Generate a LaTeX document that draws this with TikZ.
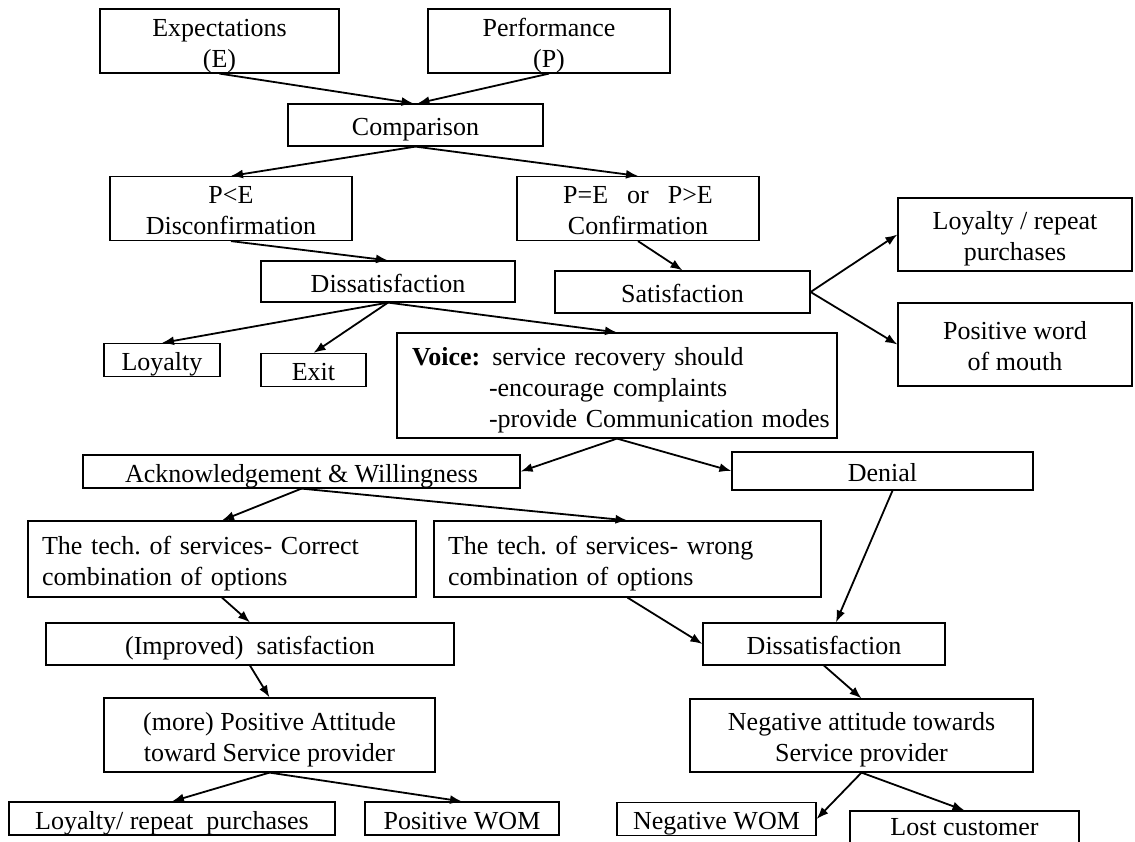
\documentclass[tikz,border=0pt]{standalone}
\usepackage{fontspec}
\setmainfont{Liberation Serif}
\usetikzlibrary{arrows.meta}

\begin{document}
\frenchspacing
\begin{tikzpicture}[x=0.5pt,y=-0.5pt,>={Latex[length=6pt,width=4.5pt]},font=\fontsize{13}{15.5}\selectfont,
  box/.style={draw,line width=0.6pt,align=center,inner sep=0pt,
    execute at begin node={\rule{0pt}{#1}},execute at end node={\rule[-3pt]{0pt}{3pt}}},
  box/.default=13.5pt,
  flow/.style={->,line width=0.9pt}]
 \useasboundingbox (0,0) rectangle (1135,841);
 \clip (0,0) rectangle (1135,841);
 % comparison
 \node[box=29pt,minimum width=119.5pt,minimum height=32pt] (exp) at (219.5,41) {Expectations\\(E)};
 \node[box=29pt,minimum width=121pt,minimum height=32pt] (perf) at (549,41) {Performance\\(P)};
 \node[box,minimum width=127.5pt,minimum height=21pt] (cmp) at (415.5,125) {Comparison};
 \node[box=29pt,minimum width=121pt,minimum height=31.5pt] (less) at (231,208.5) {P<E\\Disconfirmation};
 \node[box=29pt,minimum width=121pt,minimum height=31.5pt] (geq) at (638,208.5) {P=E\hspace{9.5pt}or\hspace{9.5pt}P>E\\Confirmation};
 % confirmation side
 \node[box,minimum width=127.5pt,minimum height=21pt] (sat) at (682.5,292) {Satisfaction};
 \node[box=29pt,minimum width=117pt,minimum height=36.5pt] (loyrep) at (1015,234.5) {Loyalty / repeat\\purchases};
 \node[box=29pt,minimum width=117pt,minimum height=41.5pt] (posword) at (1015,344.5) {Positive word\\of mouth};
 % disconfirmation side
 \node[box,minimum width=127pt,minimum height=20.5pt] (dis1) at (388,281.5) {Dissatisfaction};
 \node[box,minimum width=58pt,minimum height=16pt] (loy) at (162,360) {Loyalty};
 \node[box,minimum width=52.5pt,minimum height=16pt] (exit) at (313.5,370) {Exit};
 \node[box,align=left,inner xsep=5pt,text width=210pt,minimum height=52.5pt] (voice) at (617,385.5)
  {\hspace*{2.5pt}\mbox{\textbf{Voice:}\hspace{6pt}service recovery should}\\\hspace*{41pt}\mbox{-encourage complaints}\\\hspace*{41pt}\mbox{-provide Communication modes}};
 % recovery
 \node[box,minimum width=218.5pt,minimum height=15.5pt] (ack) at (301.5,471.5) {Acknowledgement \& Willingness};
 \node[box,minimum width=150.5pt,minimum height=19pt] (deny) at (882.5,471) {Denial};
 \node[box,align=left,inner xsep=7pt,text width=180pt,minimum height=38pt] (corr) at (222,559) {The tech. of services- Correct\\combination of options};
 \node[box,align=left,inner xsep=7pt,text width=179.5pt,minimum height=38pt] (wrong) at (627.5,559) {The tech. of services- wrong\\combination of options};
 \node[box,minimum width=204pt,minimum height=21pt] (impr) at (250,644) {(Improved)\ \ satisfaction};
 \node[box,minimum width=121pt,minimum height=21pt] (dis2) at (824,644) {Dissatisfaction};
 \node[box=29pt,minimum width=165.5pt,minimum height=37pt] (morepos) at (269.5,735) {(more) Positive Attitude\\toward Service provider};
 \node[box=29pt,minimum width=171.5pt,minimum height=36.5pt] (negatt) at (861.5,735.5) {Negative attitude towards\\Service provider};
 % outcomes
 \node[box,minimum width=163pt,minimum height=15.5pt] (loyrep2) at (172,818.5) {Loyalty/ repeat\ \ purchases};
 \node[box,minimum width=97pt,minimum height=15.5pt] (poswom) at (462,818.5) {Positive WOM};
 \node[box,minimum width=99.5pt,minimum height=16pt] (negwom) at (716.5,819) {Negative WOM};
 \node[box=11.5pt,minimum width=114.5pt,minimum height=16pt] (lost) at (964.5,827) {Lost customer};
 % arrows
 \draw[flow] (exp.south) -- ([xshift=-1pt]cmp.north);
 \draw[flow] (perf.south) -- ([xshift=1pt]cmp.north);
 \draw[flow] (cmp.south) -- (less.north);
 \draw[flow] (cmp.south) -- (geq.north);
 \draw[flow] (geq.south) -- (sat.north);
 \draw[flow] (sat.east) -- (loyrep.west);
 \draw[flow] (sat.east) -- (posword.west);
 \draw[flow] (less.south) -- (dis1.north);
 \draw[flow] (dis1.south) -- (loy.north);
 \draw[flow] (dis1.south) -- (exit.north);
 \draw[flow] (dis1.south) -- (voice.north);
 \draw[flow] (voice.south) -- (ack.east);
 \draw[flow] (voice.south) -- (deny.west);
 \draw[flow] (ack.south) -- (corr.north);
 \draw[flow] (ack.south) -- (wrong.north);
 \draw[flow] (corr.south) -- (impr.north);
 \draw[flow] (wrong.south) -- (dis2.west);
 \draw[flow] ([xshift=5pt]deny.south) -- ([xshift=6pt]dis2.north);
 \draw[flow] (impr.south) -- (morepos.north);
 \draw[flow] (dis2.south) -- (negatt.north);
 \draw[flow] (morepos.south) -- (loyrep2.north);
 \draw[flow] (morepos.south) -- (poswom.north);
 \draw[flow] (negatt.south) -- (negwom.east);
 \draw[flow] (negatt.south) -- (lost.north);
\end{tikzpicture}
\end{document}
